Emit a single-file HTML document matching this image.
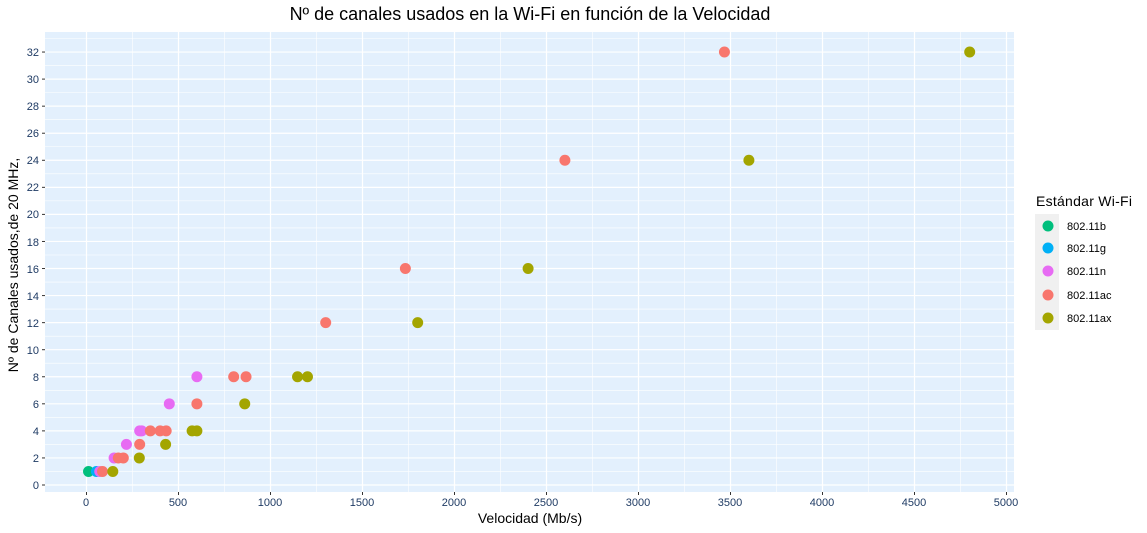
<!DOCTYPE html>
<html><head><meta charset="utf-8"><style>
body{margin:0;background:#fff}
svg{display:block;font-family:"Liberation Sans",sans-serif}
</style></head><body>
<svg id="s" width="1147" height="533" viewBox="0 0 1147 533">
<rect x="45" y="32" width="969" height="460" fill="#e3f0fd"/>
<g id="grid"></g>
<g id="pts"></g>
<text x="530" y="20" font-size="18" text-anchor="middle" fill="#000">Nº de canales usados en la Wi-Fi en función de la Velocidad</text>
<text x="530" y="523" font-size="14" text-anchor="middle" fill="#000">Velocidad (Mb/s)</text>
<text transform="translate(18,265) rotate(-90)" font-size="14" text-anchor="middle" fill="#000">Nº de Canales usados,de 20 MHz,</text>
<g font-size="11" fill="#1f3b64" text-anchor="end">
<text x="39" y="489">0</text><text x="39" y="462">2</text><text x="39" y="435">4</text><text x="39" y="408">6</text>
<text x="39" y="381">8</text><text x="39" y="354">10</text><text x="39" y="327">12</text><text x="39" y="300">14</text>
<text x="39" y="273">16</text><text x="39" y="246">18</text><text x="39" y="218">20</text><text x="39" y="191">22</text>
<text x="39" y="164">24</text><text x="39" y="137">26</text><text x="39" y="110">28</text><text x="39" y="83">30</text>
<text x="39" y="56">32</text>
</g>
<g font-size="11" fill="#1f3b64" text-anchor="middle">
<text x="86" y="506">0</text><text x="178" y="506">500</text><text x="270" y="506">1000</text><text x="362" y="506">1500</text>
<text x="454" y="506">2000</text><text x="546" y="506">2500</text><text x="638" y="506">3000</text><text x="730" y="506">3500</text>
<text x="822" y="506">4000</text><text x="914" y="506">4500</text><text x="1006" y="506">5000</text>
</g>
<text x="1036" y="206" font-size="14" fill="#000" textLength="96">Estándar Wi-Fi</text>
<rect x="1035" y="214" width="24" height="116" fill="#f0f0f0"/>
<g font-size="11" fill="#000">
<circle cx="1048" cy="226" r="5.5" fill="#00BF7D"/><text x="1067" y="230">802.11b</text>
<circle cx="1048" cy="248" r="5.5" fill="#00B0F6"/><text x="1067" y="252">802.11g</text>
<circle cx="1048" cy="271" r="5.5" fill="#E76BF3"/><text x="1067" y="275">802.11n</text>
<circle cx="1048" cy="295" r="5.5" fill="#F8766D"/><text x="1067" y="299">802.11ac</text>
<circle cx="1048" cy="318" r="5.5" fill="#A3A500"/><text x="1067" y="322">802.11ax</text>
</g>
</svg>
<script>
const X=v=>86.5+v*0.184, Y=v=>485-v*13.53;
let g='';
for(let v=-1;v<=33;v++){const y=Y(v);if(y<32||y>492)continue;g+=`<line x1="45" x2="1014" y1="${y}" y2="${y}" stroke="#fff" stroke-width="${v%2?0.6:1.2}"/>`;if(v%2==0&&v>=0)g+=`<line x1="42" x2="45" y1="${y}" y2="${y}" stroke="#333"/>`;}
for(let v=-250;v<=5250;v+=250){const x=X(v);if(x<45||x>1014)continue;g+=`<line y1="32" y2="492" x1="${x}" x2="${x}" stroke="#fff" stroke-width="${v%500?0.6:1.2}"/>`;if(v%500==0&&v>=0)g+=`<line y1="492" y2="495" x1="${x}" x2="${x}" stroke="#333"/>`;}
document.getElementById('grid').innerHTML=g;
const d=[
['#A3A500',[[143,1],[287,2],[430,3],[574,4],[600,4],[860,6],[1147,8],[1201,8],[1800,12],[2400,16],[3600,24],[4800,32]]],
['#F8766D',[[87,1],[173,2],[200,2],[289,3],[347,4],[400,4],[433,4],[600,6],[800,8],[867,8],[1300,12],[1733,16],[2600,24],[3467,32]]],
['#E76BF3',[[72,1],[150,2],[217,3],[289,4],[300,4],[450,6],[600,8]]],
['#00B0F6',[[54,1]]],
['#00BF7D',[[11,1]]]];
let p='';
for(const [c,a] of [d[4],d[3],d[2],d[1],d[0]])for(const [x,y] of a)p+=`<circle cx="${X(x)}" cy="${Y(y)}" r="5.5" fill="${c}"/>`;
document.getElementById('pts').innerHTML=p;
</script>
</body></html>
